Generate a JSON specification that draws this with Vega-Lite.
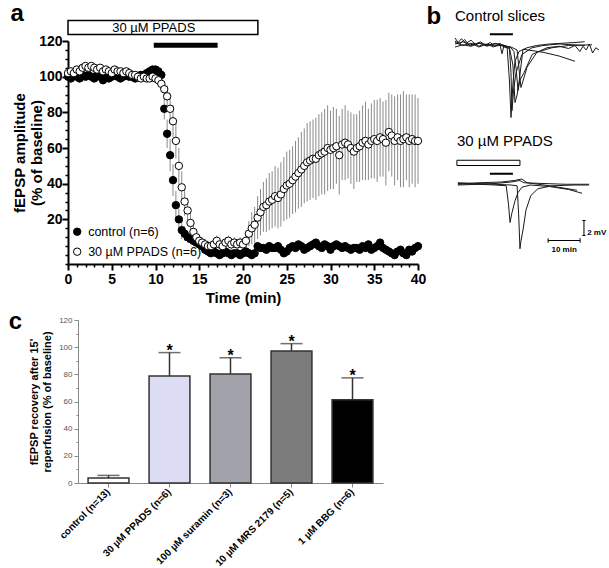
{
"$schema": "https://vega.github.io/schema/vega-lite/v6.json",
"padding": {"left": 8, "top": 1, "right": 0, "bottom": 0},
"background": "white",
"config": {"font": "Liberation Sans", "view": {"stroke": null}, "axis": {"grid": false}},
"resolve": {"scale": {"fill": "independent"}, "legend": {"fill": "independent"}},
"align": "none",
"spacing": 5,
"vconcat": [
{"hconcat": [
{
"width": 350, "height": 223,
"resolve": {"axis": {"x": "independent", "y": "independent"}},
"data": {"values": [
{"s":"control","t":0,"v":100,"e":2},{"s":"control","t":0.33,"v":99,"e":2},{"s":"control","t":0.67,"v":101,"e":2},{"s":"control","t":1,"v":100,"e":2},{"s":"control","t":1.33,"v":99,"e":2},{"s":"control","t":1.67,"v":101,"e":2},{"s":"control","t":2,"v":100,"e":2},{"s":"control","t":2.33,"v":101,"e":2},{"s":"control","t":2.67,"v":100,"e":2},{"s":"control","t":3,"v":99,"e":2},{"s":"control","t":3.33,"v":101,"e":2},{"s":"control","t":3.67,"v":100,"e":2},{"s":"control","t":4,"v":98,"e":2},{"s":"control","t":4.33,"v":100,"e":2},{"s":"control","t":4.67,"v":99,"e":2},{"s":"control","t":5,"v":100,"e":2},{"s":"control","t":5.33,"v":101,"e":2},{"s":"control","t":5.67,"v":100,"e":2},{"s":"control","t":6,"v":99,"e":2},{"s":"control","t":6.33,"v":100,"e":2},{"s":"control","t":6.67,"v":101,"e":2},{"s":"control","t":7,"v":100,"e":2},{"s":"control","t":7.33,"v":100,"e":2},{"s":"control","t":7.67,"v":99,"e":2},{"s":"control","t":8,"v":100,"e":2},{"s":"control","t":8.33,"v":101,"e":2},{"s":"control","t":8.67,"v":101,"e":2},{"s":"control","t":9,"v":102,"e":2},{"s":"control","t":9.33,"v":103,"e":2},{"s":"control","t":9.67,"v":104,"e":2},{"s":"control","t":10,"v":104,"e":2},{"s":"control","t":10.33,"v":103,"e":3},{"s":"control","t":10.67,"v":101,"e":3},{"s":"control","t":11,"v":82,"e":6},{"s":"control","t":11.33,"v":68,"e":8},{"s":"control","t":11.67,"v":56,"e":9},{"s":"control","t":12,"v":42,"e":9},{"s":"control","t":12.33,"v":28,"e":8},{"s":"control","t":12.67,"v":20,"e":6},{"s":"control","t":13,"v":14,"e":5},{"s":"control","t":13.33,"v":12,"e":4},{"s":"control","t":13.67,"v":10,"e":3},{"s":"control","t":14,"v":9,"e":3},{"s":"control","t":14.33,"v":8,"e":3},{"s":"control","t":14.67,"v":7,"e":2},{"s":"control","t":15,"v":6,"e":2},{"s":"control","t":15.33,"v":5,"e":2},{"s":"control","t":15.67,"v":3,"e":2},{"s":"control","t":16,"v":2,"e":2},{"s":"control","t":16.33,"v":1,"e":2},{"s":"control","t":16.67,"v":2,"e":2},{"s":"control","t":17,"v":1,"e":2},{"s":"control","t":17.33,"v":0,"e":2},{"s":"control","t":17.67,"v":1,"e":2},{"s":"control","t":18,"v":2,"e":2},{"s":"control","t":18.33,"v":1,"e":2},{"s":"control","t":18.67,"v":0,"e":2},{"s":"control","t":19,"v":1,"e":2},{"s":"control","t":19.33,"v":1,"e":2},{"s":"control","t":19.67,"v":0,"e":2},{"s":"control","t":20,"v":1,"e":2},{"s":"control","t":20.33,"v":2,"e":2},{"s":"control","t":20.67,"v":1,"e":2},{"s":"control","t":21,"v":0,"e":2},{"s":"control","t":21.33,"v":1,"e":2},{"s":"control","t":21.67,"v":5,"e":2},{"s":"control","t":22,"v":4,"e":2},{"s":"control","t":22.33,"v":4,"e":2},{"s":"control","t":22.67,"v":3,"e":2},{"s":"control","t":23,"v":5,"e":2},{"s":"control","t":23.33,"v":4,"e":2},{"s":"control","t":23.67,"v":4,"e":2},{"s":"control","t":24,"v":5,"e":2},{"s":"control","t":24.33,"v":3,"e":2},{"s":"control","t":24.67,"v":1,"e":2},{"s":"control","t":25,"v":2,"e":2},{"s":"control","t":25.33,"v":4,"e":2},{"s":"control","t":25.67,"v":5,"e":2},{"s":"control","t":26,"v":4,"e":2},{"s":"control","t":26.33,"v":6,"e":2},{"s":"control","t":26.67,"v":5,"e":2},{"s":"control","t":27,"v":3,"e":2},{"s":"control","t":27.33,"v":4,"e":2},{"s":"control","t":27.67,"v":5,"e":2},{"s":"control","t":28,"v":6,"e":2},{"s":"control","t":28.33,"v":7,"e":2},{"s":"control","t":28.67,"v":5,"e":2},{"s":"control","t":29,"v":4,"e":2},{"s":"control","t":29.33,"v":6,"e":2},{"s":"control","t":29.67,"v":5,"e":2},{"s":"control","t":30,"v":3,"e":2},{"s":"control","t":30.33,"v":5,"e":2},{"s":"control","t":30.67,"v":6,"e":2},{"s":"control","t":31,"v":5,"e":2},{"s":"control","t":31.33,"v":4,"e":2},{"s":"control","t":31.67,"v":5,"e":2},{"s":"control","t":32,"v":4,"e":2},{"s":"control","t":32.33,"v":3,"e":2},{"s":"control","t":32.67,"v":4,"e":2},{"s":"control","t":33,"v":4,"e":2},{"s":"control","t":33.33,"v":3,"e":2},{"s":"control","t":33.67,"v":5,"e":2},{"s":"control","t":34,"v":4,"e":2},{"s":"control","t":34.33,"v":6,"e":2},{"s":"control","t":34.67,"v":3,"e":2},{"s":"control","t":35,"v":4,"e":2},{"s":"control","t":35.33,"v":5,"e":2},{"s":"control","t":35.67,"v":7,"e":2},{"s":"control","t":36,"v":4,"e":2},{"s":"control","t":36.33,"v":3,"e":2},{"s":"control","t":36.67,"v":2,"e":2},{"s":"control","t":37,"v":1,"e":2},{"s":"control","t":37.33,"v":0,"e":2},{"s":"control","t":37.67,"v":2,"e":2},{"s":"control","t":38,"v":3,"e":2},{"s":"control","t":38.33,"v":1,"e":2},{"s":"control","t":38.67,"v":0,"e":2},{"s":"control","t":39,"v":3,"e":2},{"s":"control","t":39.33,"v":2,"e":2},{"s":"control","t":39.67,"v":4,"e":2},{"s":"control","t":40,"v":5,"e":2},
{"s":"PPADS","t":0,"v":102,"e":2},{"s":"PPADS","t":0.33,"v":103,"e":2},{"s":"PPADS","t":0.67,"v":102,"e":2},{"s":"PPADS","t":1,"v":104,"e":2},{"s":"PPADS","t":1.33,"v":103,"e":2},{"s":"PPADS","t":1.67,"v":105,"e":2},{"s":"PPADS","t":2,"v":106,"e":2},{"s":"PPADS","t":2.33,"v":105,"e":2},{"s":"PPADS","t":2.67,"v":106,"e":2},{"s":"PPADS","t":3,"v":105,"e":2},{"s":"PPADS","t":3.33,"v":104,"e":2},{"s":"PPADS","t":3.67,"v":105,"e":2},{"s":"PPADS","t":4,"v":103,"e":2},{"s":"PPADS","t":4.33,"v":104,"e":2},{"s":"PPADS","t":4.67,"v":103,"e":2},{"s":"PPADS","t":5,"v":102,"e":2},{"s":"PPADS","t":5.33,"v":104,"e":2},{"s":"PPADS","t":5.67,"v":103,"e":2},{"s":"PPADS","t":6,"v":103,"e":2},{"s":"PPADS","t":6.33,"v":102,"e":2},{"s":"PPADS","t":6.67,"v":103,"e":2},{"s":"PPADS","t":7,"v":102,"e":2},{"s":"PPADS","t":7.33,"v":101,"e":2},{"s":"PPADS","t":7.67,"v":101,"e":2},{"s":"PPADS","t":8,"v":100,"e":2},{"s":"PPADS","t":8.33,"v":99,"e":2},{"s":"PPADS","t":8.67,"v":100,"e":2},{"s":"PPADS","t":9,"v":99,"e":2},{"s":"PPADS","t":9.33,"v":99,"e":2},{"s":"PPADS","t":9.67,"v":100,"e":2},{"s":"PPADS","t":10,"v":99,"e":2},{"s":"PPADS","t":10.33,"v":98,"e":3},{"s":"PPADS","t":10.67,"v":96,"e":3},{"s":"PPADS","t":11,"v":93,"e":4},{"s":"PPADS","t":11.33,"v":89,"e":6},{"s":"PPADS","t":11.67,"v":82,"e":8},{"s":"PPADS","t":12,"v":75,"e":9},{"s":"PPADS","t":12.33,"v":64,"e":10},{"s":"PPADS","t":12.67,"v":50,"e":10},{"s":"PPADS","t":13,"v":38,"e":9},{"s":"PPADS","t":13.33,"v":30,"e":8},{"s":"PPADS","t":13.67,"v":25,"e":7},{"s":"PPADS","t":14,"v":18,"e":6},{"s":"PPADS","t":14.33,"v":13,"e":5},{"s":"PPADS","t":14.67,"v":10,"e":4},{"s":"PPADS","t":15,"v":8,"e":3},{"s":"PPADS","t":15.33,"v":7,"e":3},{"s":"PPADS","t":15.67,"v":6,"e":3},{"s":"PPADS","t":16,"v":5,"e":3},{"s":"PPADS","t":16.33,"v":5,"e":3},{"s":"PPADS","t":16.67,"v":6,"e":3},{"s":"PPADS","t":17,"v":8,"e":3},{"s":"PPADS","t":17.33,"v":6,"e":3},{"s":"PPADS","t":17.67,"v":5,"e":3},{"s":"PPADS","t":18,"v":7,"e":3},{"s":"PPADS","t":18.33,"v":8,"e":3},{"s":"PPADS","t":18.67,"v":6,"e":3},{"s":"PPADS","t":19,"v":7,"e":3},{"s":"PPADS","t":19.33,"v":6,"e":3},{"s":"PPADS","t":19.67,"v":7,"e":3},{"s":"PPADS","t":20,"v":6,"e":3},{"s":"PPADS","t":20.33,"v":8,"e":5},{"s":"PPADS","t":20.67,"v":12,"e":7},{"s":"PPADS","t":21,"v":15,"e":9},{"s":"PPADS","t":21.33,"v":17,"e":10},{"s":"PPADS","t":21.67,"v":21,"e":12},{"s":"PPADS","t":22,"v":24,"e":13},{"s":"PPADS","t":22.33,"v":27,"e":14},{"s":"PPADS","t":22.67,"v":28,"e":15},{"s":"PPADS","t":23,"v":30,"e":16},{"s":"PPADS","t":23.33,"v":31,"e":16},{"s":"PPADS","t":23.67,"v":33,"e":17},{"s":"PPADS","t":24,"v":32,"e":17},{"s":"PPADS","t":24.33,"v":34,"e":18},{"s":"PPADS","t":24.67,"v":37,"e":18},{"s":"PPADS","t":25,"v":39,"e":19},{"s":"PPADS","t":25.33,"v":40,"e":19},{"s":"PPADS","t":25.67,"v":42,"e":19},{"s":"PPADS","t":26,"v":44,"e":20},{"s":"PPADS","t":26.33,"v":46,"e":20},{"s":"PPADS","t":26.67,"v":48,"e":21},{"s":"PPADS","t":27,"v":50,"e":21},{"s":"PPADS","t":27.33,"v":52,"e":22},{"s":"PPADS","t":27.67,"v":53,"e":22},{"s":"PPADS","t":28,"v":54,"e":22},{"s":"PPADS","t":28.33,"v":54,"e":23},{"s":"PPADS","t":28.67,"v":56,"e":23},{"s":"PPADS","t":29,"v":57,"e":23},{"s":"PPADS","t":29.33,"v":58,"e":24},{"s":"PPADS","t":29.67,"v":60,"e":24},{"s":"PPADS","t":30,"v":59,"e":22},{"s":"PPADS","t":30.33,"v":60,"e":23},{"s":"PPADS","t":30.67,"v":61,"e":21},{"s":"PPADS","t":31,"v":56,"e":22},{"s":"PPADS","t":31.33,"v":62,"e":20},{"s":"PPADS","t":31.67,"v":63,"e":21},{"s":"PPADS","t":32,"v":62,"e":19},{"s":"PPADS","t":32.33,"v":60,"e":20},{"s":"PPADS","t":32.67,"v":58,"e":21},{"s":"PPADS","t":33,"v":60,"e":19},{"s":"PPADS","t":33.33,"v":61,"e":20},{"s":"PPADS","t":33.67,"v":63,"e":21},{"s":"PPADS","t":34,"v":64,"e":22},{"s":"PPADS","t":34.33,"v":62,"e":20},{"s":"PPADS","t":34.67,"v":64,"e":21},{"s":"PPADS","t":35,"v":65,"e":22},{"s":"PPADS","t":35.33,"v":64,"e":23},{"s":"PPADS","t":35.67,"v":66,"e":22},{"s":"PPADS","t":36,"v":65,"e":21},{"s":"PPADS","t":36.33,"v":63,"e":24},{"s":"PPADS","t":36.67,"v":69,"e":22},{"s":"PPADS","t":37,"v":67,"e":23},{"s":"PPADS","t":37.33,"v":64,"e":25},{"s":"PPADS","t":37.67,"v":66,"e":24},{"s":"PPADS","t":38,"v":64,"e":26},{"s":"PPADS","t":38.33,"v":65,"e":27},{"s":"PPADS","t":38.67,"v":66,"e":24},{"s":"PPADS","t":39,"v":64,"e":26},{"s":"PPADS","t":39.33,"v":65,"e":25},{"s":"PPADS","t":39.67,"v":64,"e":26},{"s":"PPADS","t":40,"v":64,"e":24}
]},
"layer": [
{"mark": {"type": "errorbar", "color": "#8a8a8a", "thickness": 1},
 "encoding": {
  "x": {"field": "t", "type": "quantitative", "scale": {"domain": [0, 40], "nice": false},
        "axis": {"orient": "bottom", "values": [1,2,3,4,6,7,8,9,11,12,13,14,16,17,18,19,21,22,23,24,26,27,28,29,31,32,33,34,36,37,38,39], "labels": false, "domain": false, "title": null, "tickSize": 3, "tickWidth": 1.5, "tickColor": "black"}},
  "y": {"field": "v", "type": "quantitative", "scale": {"domain": [-5, 120], "nice": false, "zero": false},
        "axis": {"orient": "left", "values": [-5,0,5,10,15,25,30,35,45,50,55,65,70,75,85,90,95,105,110,115], "labels": false, "domain": false, "title": null, "tickSize": 3, "tickWidth": 1.5, "tickColor": "black"}},
  "yError": {"field": "e"}
 }},
{"mark": {"type": "point", "shape": "circle", "filled": true, "size": 55, "stroke": "black", "strokeWidth": 1, "opacity": 1},
 "encoding": {
  "x": {"field": "t", "type": "quantitative", "scale": {"domain": [0, 40], "nice": false},
        "axis": {"orient": "bottom", "values": [0,5,10,15,20,25,30,35,40], "labelFlush": false, "title": "Time (min)", "titleFontSize": 15, "titleFontWeight": "bold", "titleColor": "black", "labelFontSize": 14, "labelFontWeight": "bold", "labelColor": "black", "domainColor": "black", "domainWidth": 2, "tickColor": "black", "tickWidth": 2, "tickSize": 6, "labelPadding": 2, "titlePadding": 4}},
  "y": {"field": "v", "type": "quantitative", "scale": {"domain": [-5, 120], "nice": false, "zero": false},
        "axis": {"orient": "left", "values": [20,40,60,80,100,120], "title": ["fEPSP amplitude", "(% of baseline)"], "titleFontSize": 15, "titleFontWeight": "bold", "titleColor": "black", "labelFontSize": 14, "labelFontWeight": "bold", "labelColor": "black", "domainColor": "black", "domainWidth": 2, "tickColor": "black", "tickWidth": 2, "tickSize": 6, "labelPadding": 0, "titlePadding": -6}},
  "fill": {"field": "s", "type": "nominal", "scale": {"domain": ["control", "PPADS"], "range": ["black", "white"]}, "legend": null}
 }},
{"data": {"values": [{"s": "control", "t": 1.05, "v": 13.1}, {"s": "PPADS", "t": 1.05, "v": 1.9}]},
 "mark": {"type": "point", "shape": "circle", "filled": true, "size": 55, "stroke": "black", "strokeWidth": 1, "opacity": 1},
 "encoding": {
  "x": {"field": "t", "type": "quantitative", "scale": {"domain": [0, 40], "nice": false}, "axis": null},
  "y": {"field": "v", "type": "quantitative", "scale": {"domain": [-5, 120], "nice": false, "zero": false}, "axis": null},
  "fill": {"field": "s", "type": "nominal", "scale": {"domain": ["control", "PPADS"], "range": ["black", "white"]}, "legend": null}
 }},
{"data": {"values": [{"t": 2.3, "v": 13.1, "label": "control (n=6)"}, {"t": 2.3, "v": 1.9, "label": "30 µM PPADS (n=6)"}]},
 "mark": {"type": "text", "fontSize": 12.5, "align": "left", "baseline": "middle", "color": "black"},
 "encoding": {
  "x": {"field": "t", "type": "quantitative", "scale": {"domain": [0, 40], "nice": false}, "axis": null},
  "y": {"field": "v", "type": "quantitative", "scale": {"domain": [-5, 120], "nice": false, "zero": false}, "axis": null},
  "text": {"field": "label"}
 }},
{"data": {"values": [{"x0": 0, "x1": 21.7, "y0": 123.6, "y1": 131.5}]},
 "mark": {"type": "rect", "fill": "white", "stroke": "black", "strokeWidth": 1.5},
 "encoding": {
  "x": {"field": "x0", "type": "quantitative", "scale": {"domain": [0, 40], "nice": false}, "axis": null},
  "x2": {"field": "x1"},
  "y": {"field": "y0", "type": "quantitative", "scale": {"domain": [-5, 120], "nice": false, "zero": false}, "axis": null},
  "y2": {"field": "y1"}
 }},
{"data": {"values": [{"x": 9.8, "y": 127.5, "label": "30 µM PPADS"}]},
 "mark": {"type": "text", "fontSize": 13, "align": "center", "baseline": "middle", "color": "black"},
 "encoding": {
  "x": {"field": "x", "type": "quantitative", "scale": {"domain": [0, 40], "nice": false}, "axis": null},
  "y": {"field": "y", "type": "quantitative", "scale": {"domain": [-5, 120], "nice": false, "zero": false}, "axis": null},
  "text": {"field": "label"}
 }},
{"data": {"values": [{"x0": 9.8, "x1": 17.1, "y": 117.6}]},
 "mark": {"type": "rule", "strokeWidth": 5, "color": "black"},
 "encoding": {
  "x": {"field": "x0", "type": "quantitative", "scale": {"domain": [0, 40], "nice": false}, "axis": null},
  "x2": {"field": "x1"},
  "y": {"field": "y", "type": "quantitative", "scale": {"domain": [-5, 120], "nice": false, "zero": false}, "axis": null}
 }},
{"data": {"values": [{"x": -5.8, "y": 135.4, "label": "a"}]},
 "mark": {"type": "text", "fontSize": 24, "fontWeight": "bold", "align": "center", "baseline": "middle", "color": "black"},
 "encoding": {
  "x": {"field": "x", "type": "quantitative", "scale": {"domain": [0, 40], "nice": false}, "axis": null},
  "y": {"field": "y", "type": "quantitative", "scale": {"domain": [-5, 120], "nice": false, "zero": false}, "axis": null},
  "text": {"field": "label"}
 }}
]
},
{
"width": 160, "height": 226.5,
"layer": [
{"data": {"values": [
{"tr":"c1","t":2.5,"m":30.2},{"tr":"c1","t":4,"m":29.8},{"tr":"c1","t":5.5,"m":30.4},{"tr":"c1","t":7,"m":29.6},{"tr":"c1","t":8.5,"m":29.9},{"tr":"c1","t":10,"m":29.5},{"tr":"c1","t":11.5,"m":29.8},{"tr":"c1","t":13,"m":29.7},{"tr":"c1","t":14.5,"m":29.4},{"tr":"c1","t":16,"m":29.7},{"tr":"c1","t":17.5,"m":29.5},{"tr":"c1","t":18.8,"m":29.3},{"tr":"c1","t":19.5,"m":25},{"tr":"c1","t":20,"m":20},{"tr":"c1","t":20.6,"m":24.5},{"tr":"c1","t":21.25,"m":27.5},{"tr":"c1","t":22.5,"m":28.8},{"tr":"c1","t":25,"m":29.3},{"tr":"c1","t":28,"m":29.6},{"tr":"c1","t":32,"m":29.8},{"tr":"c1","t":36,"m":29.9},{"tr":"c1","t":40,"m":30.0},{"tr":"c1","t":43,"m":30.1},
{"tr":"c2","t":2.5,"m":30.6},{"tr":"c2","t":3.5,"m":30.0},{"tr":"c2","t":4.5,"m":30.5},{"tr":"c2","t":6,"m":29.9},{"tr":"c2","t":7.5,"m":30.3},{"tr":"c2","t":9,"m":29.7},{"tr":"c2","t":10.5,"m":30.1},{"tr":"c2","t":12,"m":29.6},{"tr":"c2","t":13.5,"m":30.0},{"tr":"c2","t":15,"m":29.5},{"tr":"c2","t":16.5,"m":29.9},{"tr":"c2","t":18,"m":29.4},{"tr":"c2","t":19.5,"m":29.2},{"tr":"c2","t":20,"m":26},{"tr":"c2","t":20.3,"m":20.9},{"tr":"c2","t":20.9,"m":24},{"tr":"c2","t":21.6,"m":26},{"tr":"c2","t":23.4,"m":28.4},{"tr":"c2","t":26.6,"m":29.3},{"tr":"c2","t":30,"m":29.6},{"tr":"c2","t":35,"m":29.8},{"tr":"c2","t":43.1,"m":29.6},
{"tr":"c3","t":2.5,"m":29.4},{"tr":"c3","t":5,"m":29.7},{"tr":"c3","t":7.5,"m":29.5},{"tr":"c3","t":10,"m":29.9},{"tr":"c3","t":12.5,"m":29.6},{"tr":"c3","t":15,"m":29.8},{"tr":"c3","t":16.5,"m":29.8},{"tr":"c3","t":17.2,"m":28.5},{"tr":"c3","t":17.8,"m":29.6},{"tr":"c3","t":20,"m":29.3},{"tr":"c3","t":20.9,"m":28.8},{"tr":"c3","t":21.6,"m":26.5},{"tr":"c3","t":22.2,"m":23.6},{"tr":"c3","t":22.8,"m":25},{"tr":"c3","t":24.1,"m":26},{"tr":"c3","t":26.6,"m":28.4},{"tr":"c3","t":31.25,"m":29.3},{"tr":"c3","t":35,"m":29.5},{"tr":"c3","t":38,"m":29.2},{"tr":"c3","t":40,"m":29.6},{"tr":"c3","t":41.5,"m":28.8},{"tr":"c3","t":42.5,"m":29.5},{"tr":"c3","t":43.5,"m":29.0},{"tr":"c3","t":44.5,"m":29.8},{"tr":"c3","t":45.5,"m":28.6},{"tr":"c3","t":46.5,"m":29.3},{"tr":"c3","t":47.5,"m":29.0},
{"tr":"c4","t":2.5,"m":29.8},{"tr":"c4","t":5,"m":30.1},{"tr":"c4","t":7.5,"m":29.6},{"tr":"c4","t":10,"m":30.0},{"tr":"c4","t":12.5,"m":29.5},{"tr":"c4","t":15,"m":29.9},{"tr":"c4","t":17.5,"m":29.6},{"tr":"c4","t":20,"m":29.4},{"tr":"c4","t":21.9,"m":29.0},{"tr":"c4","t":22.5,"m":26.5},{"tr":"c4","t":23.1,"m":24.0},{"tr":"c4","t":23.7,"m":24.8},{"tr":"c4","t":25,"m":26.7},{"tr":"c4","t":28.1,"m":28.7},{"tr":"c4","t":32.8,"m":29.3},{"tr":"c4","t":38,"m":29.6},{"tr":"c4","t":45.3,"m":29.7},
{"tr":"c5","t":2.5,"m":30.0},{"tr":"c5","t":5,"m":29.6},{"tr":"c5","t":7.5,"m":29.9},{"tr":"c5","t":10,"m":29.4},{"tr":"c5","t":12.5,"m":29.8},{"tr":"c5","t":15,"m":29.5},{"tr":"c5","t":17.5,"m":29.7},{"tr":"c5","t":19.5,"m":29.3},{"tr":"c5","t":20.6,"m":27},{"tr":"c5","t":21.25,"m":22.0},{"tr":"c5","t":21.9,"m":23},{"tr":"c5","t":22.5,"m":24.7},{"tr":"c5","t":23.75,"m":29.1},{"tr":"c5","t":30,"m":28.7},{"tr":"c5","t":35,"m":28.2},{"tr":"c5","t":40,"m":27.5},
{"tr":"p1","t":3.4,"m":11.0},{"tr":"p1","t":10,"m":11.1},{"tr":"p1","t":15,"m":11.2},{"tr":"p1","t":20,"m":11.4},{"tr":"p1","t":22.8,"m":11.6},{"tr":"p1","t":24,"m":11.3},{"tr":"p1","t":30,"m":11.2},{"tr":"p1","t":37,"m":11.1},{"tr":"p1","t":44.4,"m":11.1},
{"tr":"p2","t":3.4,"m":11.2},{"tr":"p2","t":10,"m":11.1},{"tr":"p2","t":15,"m":11.0},{"tr":"p2","t":18.5,"m":10.9},{"tr":"p2","t":19.2,"m":8.5},{"tr":"p2","t":19.7,"m":6.0},{"tr":"p2","t":20.3,"m":7.3},{"tr":"p2","t":21.25,"m":8.9},{"tr":"p2","t":22.2,"m":10.0},{"tr":"p2","t":23.4,"m":10.7},{"tr":"p2","t":26,"m":11.0},{"tr":"p2","t":32,"m":10.8},{"tr":"p2","t":38,"m":10.4},{"tr":"p2","t":42.2,"m":9.9},
{"tr":"p3","t":3.4,"m":11.3},{"tr":"p3","t":10,"m":11.2},{"tr":"p3","t":15,"m":11.1},{"tr":"p3","t":20,"m":11.0},{"tr":"p3","t":21.9,"m":10.9},{"tr":"p3","t":22.4,"m":7},{"tr":"p3","t":22.8,"m":2.5},{"tr":"p3","t":23.1,"m":3.5},{"tr":"p3","t":23.75,"m":5},{"tr":"p3","t":24.7,"m":7.7},{"tr":"p3","t":26.2,"m":9.6},{"tr":"p3","t":28.4,"m":10.5},{"tr":"p3","t":32.8,"m":10.9},{"tr":"p3","t":40,"m":11.0},{"tr":"p3","t":44.4,"m":11.0},
{"tr":"p4","t":3.4,"m":11.1},{"tr":"p4","t":10,"m":11.3},{"tr":"p4","t":17,"m":11.4},{"tr":"p4","t":21,"m":11.6},{"tr":"p4","t":23.4,"m":11.8},{"tr":"p4","t":25,"m":11.3},{"tr":"p4","t":32,"m":10.9},{"tr":"p4","t":40.6,"m":10.3}
]},
 "mark": {"type": "line", "color": "#1a1a1a", "strokeWidth": 1},
 "encoding": {
  "x": {"field": "t", "type": "quantitative", "scale": {"domain": [0, 50], "nice": false}, "axis": null},
  "y": {"field": "m", "type": "quantitative", "scale": {"domain": [0, 30.2], "nice": false, "zero": false}, "axis": null},
  "detail": {"field": "tr"}
 }},
{"data": {"values": [
{"x": 42.8, "x2": 42.8, "y": 4.27, "y2": 6.27},
{"x": 42.3, "x2": 43.3, "y": 4.27, "y2": 4.27},
{"x": 42.3, "x2": 43.3, "y": 6.27, "y2": 6.27},
{"x": 31.6, "x2": 41.6, "y": 3.6, "y2": 3.6},
{"x": 31.6, "x2": 31.6, "y": 3.3, "y2": 3.9},
{"x": 41.6, "x2": 41.6, "y": 3.3, "y2": 3.9}
]},
 "mark": {"type": "rule", "strokeWidth": 1, "color": "black"},
 "encoding": {
  "x": {"field": "x", "type": "quantitative", "scale": {"domain": [0, 50], "nice": false}, "axis": null},
  "x2": {"field": "x2"},
  "y": {"field": "y", "type": "quantitative", "scale": {"domain": [0, 30.2], "nice": false, "zero": false}, "axis": null},
  "y2": {"field": "y2"}
 }},
{"data": {"values": [{"x": 13.4, "x2": 20.6, "y": 31.1}, {"x": 13.4, "x2": 20.6, "y": 12.5}]},
 "mark": {"type": "rule", "strokeWidth": 2, "color": "black"},
 "encoding": {
  "x": {"field": "x", "type": "quantitative", "scale": {"domain": [0, 50], "nice": false}, "axis": null},
  "x2": {"field": "x2"},
  "y": {"field": "y", "type": "quantitative", "scale": {"domain": [0, 30.2], "nice": false, "zero": false}, "axis": null}
 }},
{"data": {"values": [{"x": 3.1, "x2": 22.8, "y": 13.6, "y2": 14.3}]},
 "mark": {"type": "rect", "fill": "white", "stroke": "black", "strokeWidth": 1},
 "encoding": {
  "x": {"field": "x", "type": "quantitative", "scale": {"domain": [0, 50], "nice": false}, "axis": null},
  "x2": {"field": "x2"},
  "y": {"field": "y", "type": "quantitative", "scale": {"domain": [0, 30.2], "nice": false, "zero": false}, "axis": null},
  "y2": {"field": "y2"}
 }},
{"data": {"values": [{"x": 2.5, "y": 33.6, "label": "Control slices"}, {"x": 3.1, "y": 16.9, "label": "30 µM PPADS"}]},
 "mark": {"type": "text", "fontSize": 15, "align": "left", "baseline": "middle", "color": "black"},
 "encoding": {
  "x": {"field": "x", "type": "quantitative", "scale": {"domain": [0, 50], "nice": false}, "axis": null},
  "y": {"field": "y", "type": "quantitative", "scale": {"domain": [0, 30.2], "nice": false, "zero": false}, "axis": null},
  "text": {"field": "label"}
 }},
{"data": {"values": [{"x": -4.1, "y": 33.4, "label": "b"}]},
 "mark": {"type": "text", "fontSize": 24, "fontWeight": "bold", "align": "center", "baseline": "middle", "color": "black"},
 "encoding": {
  "x": {"field": "x", "type": "quantitative", "scale": {"domain": [0, 50], "nice": false}, "axis": null},
  "y": {"field": "y", "type": "quantitative", "scale": {"domain": [0, 30.2], "nice": false, "zero": false}, "axis": null},
  "text": {"field": "label"}
 }},
{"data": {"values": [{"x": 43.8, "y": 4.6, "label": "2 mV"}]},
 "mark": {"type": "text", "fontSize": 8, "fontWeight": "bold", "align": "left", "baseline": "middle", "color": "black"},
 "encoding": {
  "x": {"field": "x", "type": "quantitative", "scale": {"domain": [0, 50], "nice": false}, "axis": null},
  "y": {"field": "y", "type": "quantitative", "scale": {"domain": [0, 30.2], "nice": false, "zero": false}, "axis": null},
  "text": {"field": "label"}
 }},
{"data": {"values": [{"x": 36.6, "y": 2.4, "label": "10 min"}]},
 "mark": {"type": "text", "fontSize": 8, "fontWeight": "bold", "align": "center", "baseline": "middle", "color": "black"},
 "encoding": {
  "x": {"field": "x", "type": "quantitative", "scale": {"domain": [0, 50], "nice": false}, "axis": null},
  "y": {"field": "y", "type": "quantitative", "scale": {"domain": [0, 30.2], "nice": false, "zero": false}, "axis": null},
  "text": {"field": "label"}
 }}
]
}
], "spacing": 0},
{
"width": 315, "height": 163,
"title": {"text": "c", "anchor": "start", "frame": "bounds", "fontSize": 24, "fontWeight": "bold", "color": "black", "offset": -18, "dx": -20},
"resolve": {"axis": {"y": "independent"}},
"data": {"values": [
{"g": "control (n=13)", "v": 3.7, "hi": 5.6, "sig": ""},
{"g": "30 µM PPADS (n=6)", "v": 78.8, "hi": 96, "sig": "*"},
{"g": "100 µM suramin (n=3)", "v": 80.3, "hi": 92.2, "sig": "*"},
{"g": "10 µM MRS 2179 (n=5)", "v": 97.2, "hi": 102.6, "sig": "*"},
{"g": "1 µM BBG (n=6)", "v": 61.2, "hi": 77.4, "sig": "*"}
]},
"layer": [
{"mark": {"type": "rule", "color": "#333", "strokeWidth": 1.5},
 "encoding": {
  "x": {"field": "g", "type": "nominal", "sort": null, "scale": {"range": [10, 315], "paddingInner": 0.33, "paddingOuter": 0.165},
        "axis": {"title": null, "labelAngle": -45, "labelAlign": "right", "labelBaseline": "middle", "labelFontSize": 10, "labelFontWeight": "bold", "labelColor": "black", "domainColor": "#888", "tickColor": "#888", "tickSize": 4, "labelPadding": 3}},
  "y": {"field": "v", "type": "quantitative", "scale": {"domain": [0, 120], "nice": false},
        "axis": {"orient": "left", "offset": -10, "values": [0,20,40,60,80,100,120], "title": ["fEPSP recovery after 15'", "reperfusion (% of baseline)"], "titleFontSize": 11, "titleFontWeight": "bold", "titleColor": "black", "labelFontSize": 8, "labelColor": "#555", "domainColor": "#888", "tickColor": "#888", "tickSize": 4, "labelPadding": 2, "titlePadding": 6}},
  "y2": {"field": "hi"}
 }},
{"mark": {"type": "tick", "color": "#333", "thickness": 1.5, "size": 22},
 "encoding": {
  "x": {"field": "g", "type": "nominal", "sort": null},
  "y": {"field": "hi", "type": "quantitative", "scale": {"domain": [0, 120], "nice": false}, "axis": null}
 }},
{"mark": {"type": "bar", "stroke": "#333", "strokeWidth": 1.5},
 "encoding": {
  "x": {"field": "g", "type": "nominal", "sort": null},
  "y": {"field": "v", "type": "quantitative", "scale": {"domain": [0, 120], "nice": false},
        "axis": {"orient": "left", "offset": -10, "values": [10,30,50,70,90,110], "labels": false, "domain": false, "title": null, "tickSize": 2, "tickColor": "#888"}},
  "fill": {"field": "g", "type": "nominal", "sort": null, "scale": {"domain": ["control (n=13)", "30 µM PPADS (n=6)", "100 µM suramin (n=3)", "10 µM MRS 2179 (n=5)", "1 µM BBG (n=6)"], "range": ["white", "#dcdcf4", "#a2a2aa", "#7c7c7c", "black"]}, "legend": null}
 }},
{"mark": {"type": "text", "fontSize": 16, "fontWeight": "bold", "baseline": "alphabetic", "dy": 3, "color": "black"},
 "encoding": {
  "x": {"field": "g", "type": "nominal", "sort": null},
  "y": {"field": "hi", "type": "quantitative", "scale": {"domain": [0, 120], "nice": false}, "axis": null},
  "text": {"field": "sig"}
 }}
]
}
]
}
